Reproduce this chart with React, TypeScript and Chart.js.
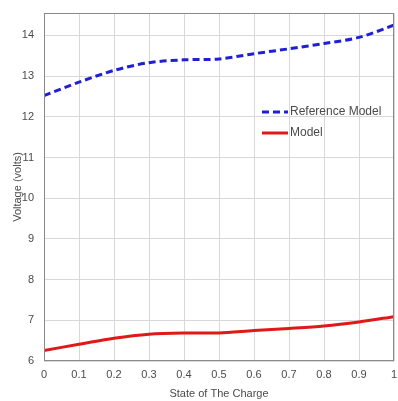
import React, { useEffect, useRef } from "react";
import { Chart, registerables } from "chart.js";

Chart.register(...registerables);

const soc = [0, 0.1, 0.2, 0.3, 0.4, 0.5, 0.6, 0.7, 0.8, 0.9, 1];
const referenceModel = [12.52, 12.85, 13.14, 13.33, 13.4, 13.42, 13.55, 13.67, 13.8, 13.95, 14.25];
const model = [6.26, 6.41, 6.56, 6.66, 6.69, 6.69, 6.75, 6.8, 6.86, 6.96, 7.09];
const seriesLabels = ["Reference Model", "Model"];
const xTitle = "State of The Charge";
const yTitle = "Voltage (volts)";

const FONT = "'Liberation Sans', Arial, sans-serif";

const frameAndLegend = {
  id: "frameAndLegend",
  afterDraw(chart: any) {
    const { ctx, chartArea } = chart;
    ctx.save();
    ctx.strokeStyle = "#8a8a8a";
    ctx.lineWidth = 1;
    ctx.strokeRect(chartArea.left + 0.5, chartArea.top + 0.5, chartArea.right - chartArea.left - 1, chartArea.bottom - chartArea.top - 1);
    const lx = chartArea.left + 218;
    const ly = chartArea.top + 99;
    const items = chart.data.datasets;
    ctx.font = "12px " + FONT;
    ctx.textBaseline = "middle";
    items.forEach((ds: any, i: number) => {
      const y = ly + i * 21;
      ctx.beginPath();
      ctx.strokeStyle = ds.borderColor;
      ctx.lineWidth = 3;
      ctx.setLineDash(ds.borderDash || []);
      ctx.moveTo(lx, y);
      ctx.lineTo(lx + 26, y);
      ctx.stroke();
      ctx.setLineDash([]);
      ctx.fillStyle = "#4a4a4a";
      ctx.fillText(ds.label, lx + 28, y);
    });
    ctx.restore();
  },
};

export default function App() {
  const ref = useRef<HTMLCanvasElement>(null);
  useEffect(() => {
    document.body.style.margin = "0";
    const chart = new Chart(ref.current!, {
      type: "line",
      data: {
        datasets: [
          {
            label: seriesLabels[0],
            data: soc.map((x, i) => ({ x, y: referenceModel[i] })),
            borderColor: "#1f1fd6",
            borderWidth: 3,
            borderDash: [7, 4],
            pointRadius: 0,
            tension: 0.3,
            fill: false,
          },
          {
            label: seriesLabels[1],
            data: soc.map((x, i) => ({ x, y: model[i] })),
            borderColor: "#e01818",
            borderWidth: 3,
            pointRadius: 0,
            tension: 0.3,
            fill: false,
          },
        ],
      },
      options: {
        animation: false,
        responsive: false,
        plugins: { legend: { display: false }, tooltip: { enabled: false } },
        layout: { padding: { top: 13, right: 4, left: 11, bottom: 0 } },
        scales: {
          x: {
            type: "linear",
            min: 0,
            max: 1,
            ticks: {
              stepSize: 0.1,
              color: "#4a4a4a",
              font: { family: FONT, size: 11 },
              padding: 7,
              callback: (v: any) => String(Number(Number(v).toFixed(1))),
            },
            grid: { color: "#d8d8d8", drawTicks: false },
            border: { display: false },
            title: { display: true, text: xTitle, color: "#4a4a4a", font: { family: FONT, size: 11 }, padding: { top: 0, bottom: 0 } },
            afterFit: (s: any) => { s.height = 40; s.paddingLeft = 0; s.paddingRight = 0; },
          },
          y: {
            min: 6,
            max: 14.55,
            ticks: {
              stepSize: 1,
              includeBounds: false,
              color: "#4a4a4a",
              font: { family: FONT, size: 11 },
              padding: 10,
            },
            grid: { color: "#d8d8d8", drawTicks: false },
            border: { display: false },
            title: { display: true, text: yTitle, color: "#4a4a4a", font: { family: FONT, size: 11 }, padding: { top: 0, bottom: 0 } },
            afterFit: (s: any) => { s.width = 33; s.paddingTop = 0; s.paddingBottom = 0; },
          },
        },
      },
      plugins: [frameAndLegend],
    });
    return () => chart.destroy();
  }, []);
  return (
    <div style={{ width: 398, height: 401 }}>
      <canvas ref={ref} width={398} height={401} style={{ display: "block" }} />
    </div>
  );
}
